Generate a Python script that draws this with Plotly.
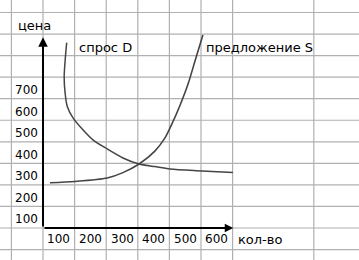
import plotly.graph_objects as go

# ---- data ----
demand_q = [75, 71, 67, 70, 77, 96, 127, 159, 203, 253, 304, 354, 402, 503, 601]
demand_p = [860, 795, 702, 625, 563, 509, 455, 408, 367, 325, 297, 285, 274, 265, 257]

supply_q = [22, 101, 203, 253, 304, 354, 386, 408, 434, 459, 481, 506]
supply_p = [210, 216, 232, 257, 297, 357, 418, 483, 571, 668, 775, 896]

x_tick_vals = [100, 200, 300, 400, 500, 600]
x_tick_text = ["100", "200", "300", "400", "500", "600"]
y_tick_vals = [100, 200, 300, 400, 500, 600, 700]
y_tick_text = ["100", "200", "300", "400", "500", "600", "700"]

x_grid = [-100, 0, 100, 200, 300, 400, 500, 600, 857]
y_grid = [-100, 0, 100, 200, 300, 400, 500, 600, 700, 800, 900, 1000]

x_axis_end = 602
y_axis_end = 885

y_title = "цена"
x_title = "кол-во"
demand_label = "спрос D"
supply_label = "предложение S"

FONT = "DejaVu Sans"
FS = 13
NUM_FS = 12
LINE_COLOR = "#454545"
GRID_COLOR = "#b0b0b0"

fig = go.Figure()
fig.add_trace(go.Scatter(x=demand_q, y=demand_p, mode="lines",
                         line=dict(color=LINE_COLOR, width=1.5, shape="spline", smoothing=0.8),
                         hoverinfo="skip", showlegend=False))
fig.add_trace(go.Scatter(x=supply_q, y=supply_p, mode="lines",
                         line=dict(color=LINE_COLOR, width=1.6, shape="spline", smoothing=0.8),
                         hoverinfo="skip", showlegend=False))

shapes = []
for gx in x_grid:
    shapes.append(dict(type="line", xref="x", yref="paper", x0=gx, x1=gx, y0=0, y1=1,
                       line=dict(color=GRID_COLOR, width=1.2), layer="below"))
for gy in y_grid:
    shapes.append(dict(type="line", xref="paper", yref="y", x0=0, x1=1, y0=gy, y1=gy,
                       line=dict(color=GRID_COLOR, width=1.2), layer="below"))

ann = []
# axes with arrows
ann.append(dict(x=x_axis_end, y=0, ax=0, ay=0, xref="x", yref="y", axref="x", ayref="y",
                text="", showarrow=True, arrowhead=2, arrowsize=0.85, arrowwidth=2,
                arrowcolor="black", standoff=0))
ann.append(dict(x=0, y=y_axis_end, ax=0, ay=0, xref="x", yref="y", axref="x", ayref="y",
                text="", showarrow=True, arrowhead=2, arrowsize=0.95, arrowwidth=2,
                arrowcolor="black", standoff=0))

tf = dict(family=FONT, size=FS, color="#000")
nf = dict(family=FONT, size=NUM_FS, color="#000")
for v, t in zip(x_tick_vals, x_tick_text):
    ann.append(dict(x=v - 50, y=-52, xref="x", yref="y", text=t, showarrow=False,
                    xanchor="center", yanchor="middle", font=nf))
for v, t in zip(y_tick_vals, y_tick_text):
    ann.append(dict(x=-12, y=v - 60, xref="x", yref="y", text=t, showarrow=False,
                    xanchor="right", yanchor="middle", font=nf))
ann.append(dict(x=614, y=-52, xref="x", yref="y", text=x_title, showarrow=False,
                xanchor="left", yanchor="middle", font=tf))
ann.append(dict(x=-83, y=940, xref="x", yref="y", text=y_title, showarrow=False,
                xanchor="left", yanchor="middle", font=tf))
ann.append(dict(x=111, y=837, xref="x", yref="y", text=demand_label, showarrow=False,
                xanchor="left", yanchor="middle", font=tf))
ann.append(dict(x=513, y=837, xref="x", yref="y", text=supply_label, showarrow=False,
                xanchor="left", yanchor="middle", font=tf))

for a in ann:
    if not a.get("showarrow"):
        a["borderpad"] = 0

fig.update_layout(
    width=359, height=260,
    margin=dict(l=0, r=0, t=0, b=0),
    paper_bgcolor="white", plot_bgcolor="white",
    showlegend=False,
    annotations=ann,
    shapes=shapes,
    xaxis=dict(range=[-136.1, 1000], showticklabels=False, ticks="",
               showgrid=False, zeroline=False, showline=False, fixedrange=True),
    yaxis=dict(range=[-148.5, 1058], showticklabels=False, ticks="",
               showgrid=False, zeroline=False, showline=False, fixedrange=True),
)

fig.write_html("out.html", config=dict(displayModeBar=False, staticPlot=True),
               post_script="document.body.style.margin='0';document.body.style.overflow='hidden';")
